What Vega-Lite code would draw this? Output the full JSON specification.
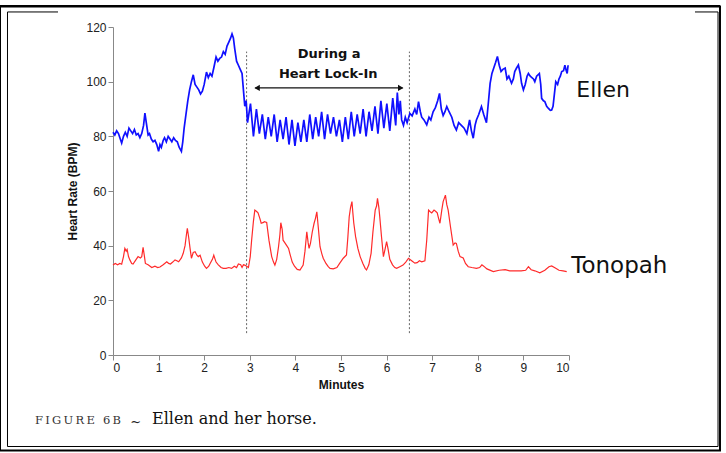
{
  "$schema": "https://vega.github.io/schema/vega-lite/v6.json",
  "width": 456,
  "height": 328,
  "autosize": {"type": "none"},
  "padding": {"left": 113, "top": 27, "right": 157, "bottom": 98},
  "background": "white",
  "config": {"view": {"stroke": null}},
  "datasets": {
    "one": [{"k": 1}],
    "ellen": [
      [0.00,81.5],[0.04,80.5],[0.08,82],[0.12,81],[0.16,79],[0.19,77.5],[0.23,80],[0.27,81.5],[0.31,80],[0.35,83],[0.39,82],[0.43,81],[0.47,82.5],[0.51,80.5],[0.55,81],[0.59,79.5],[0.63,81],[0.67,84],[0.70,88.5],[0.73,85],[0.77,80.5],[0.80,81],[0.84,79],[0.88,78],[0.92,78.5],[0.96,77],[1.00,74.5],[1.03,77],[1.06,76],[1.10,78.5],[1.13,79.5],[1.17,78],[1.21,80],[1.25,79],[1.29,78],[1.33,79.5],[1.37,78.5],[1.41,78],[1.45,76],[1.50,74.5],[1.53,78],[1.56,83],[1.60,88],[1.64,93],[1.68,97],[1.72,100],[1.76,102.5],[1.80,99],[1.84,98],[1.88,97],[1.92,95.5],[1.96,96.5],[2.00,99],[2.05,103.5],[2.09,101.5],[2.13,103],[2.17,102],[2.21,105],[2.26,109],[2.30,107.5],[2.34,108.5],[2.38,109],[2.42,111],[2.46,110],[2.50,113],[2.54,114.5],[2.58,116],[2.61,117.5],[2.64,116],[2.67,112],[2.71,107.5],[2.75,106],[2.79,104.5],[2.83,103],[2.86,97],[2.89,91],[2.92,93],[2.95,85],
      [3.015,92],[3.08,80],[3.145,90],[3.21,81],[3.275,88],[3.34,79],[3.405,87],[3.47,80],[3.535,88],[3.60,78],[3.665,86],[3.73,79],[3.795,87],[3.86,77],[3.925,86],[3.99,76.5],[4.055,85],[4.12,78],[4.185,86],[4.25,78],[4.315,88],[4.38,79],[4.445,87],[4.51,80],[4.575,89],[4.64,79],[4.705,88],[4.77,81],[4.835,87],[4.90,80],[4.965,86],[5.03,78],[5.095,87],[5.16,79],[5.225,89],[5.29,80],[5.355,88],[5.42,81],[5.485,90],[5.55,80],[5.615,89],[5.68,82],[5.745,91],[5.81,81],[5.875,93],[5.94,83],[6.005,92],[6.07,82],[6.135,94],[6.20,84],[6.235,96],[6.27,88],[6.30,93],[6.33,86],[6.37,84],[6.41,87],[6.45,85],
      [6.51,88.4],[6.56,87.5],[6.62,90],[6.66,88],[6.70,92.7],[6.74,89],[6.77,87],[6.82,86],[6.88,84.2],[6.93,87],[6.97,86],[7.02,89],[7.07,90.5],[7.12,93],[7.16,95.7],[7.20,90],[7.24,87.6],[7.28,89],[7.32,90.9],[7.37,89],[7.43,87],[7.48,84],[7.53,82.3],[7.58,85],[7.64,84],[7.70,83],[7.76,81],[7.82,86],[7.86,82],[7.90,79.3],[7.94,84],[7.97,86],[8.02,88],[8.08,90.9],[8.13,88],[8.19,85],[8.23,92],[8.27,99.4],[8.31,103],[8.35,105],[8.39,107],[8.43,109.2],[8.47,106],[8.51,103.7],[8.55,104.5],[8.60,105],[8.64,101],[8.68,102],[8.74,99.4],[8.78,101],[8.81,103.7],[8.85,105],[8.89,106.1],[8.93,103],[8.96,99.4],[9.00,97],[9.04,99],[9.08,102],[9.11,103],[9.15,102],[9.18,101.6],[9.22,101],[9.25,100],[9.29,102],[9.35,103],[9.38,99],[9.40,93.9],[9.44,93],[9.47,92.7],[9.51,91],[9.55,90.2],[9.59,89.5],[9.62,89.6],[9.65,91],[9.67,94],[9.71,100],[9.75,99],[9.78,101],[9.81,102],[9.84,103.7],[9.88,104],[9.91,106],[9.94,104],[9.96,103],[9.98,106]
    ],
    "tonopah": [
      [0.00,32.9],[0.05,33.5],[0.10,33],[0.15,33.5],[0.19,33.2],[0.23,36],[0.26,39],[0.29,38],[0.31,38.6],[0.34,36],[0.37,34.8],[0.41,33.5],[0.44,33.3],[0.49,34.5],[0.55,36],[0.60,35.5],[0.63,36],[0.66,39.4],[0.69,36],[0.71,33.5],[0.77,33],[0.85,32],[0.92,32.5],[0.98,32],[1.03,32.2],[1.10,33],[1.18,34.1],[1.22,33.5],[1.26,33.3],[1.31,34],[1.36,34.8],[1.40,34.5],[1.44,34.1],[1.50,35.5],[1.54,37.2],[1.58,40],[1.61,44],[1.63,46.3],[1.66,43],[1.69,39],[1.72,35.4],[1.76,37.5],[1.80,37.8],[1.84,36.5],[1.87,36],[1.91,36.5],[1.96,34],[2.01,32.5],[2.05,31.7],[2.10,32.5],[2.13,33.5],[2.18,35],[2.21,36.5],[2.24,35],[2.26,34],[2.31,33],[2.37,32],[2.42,31.7],[2.48,31.7],[2.54,32],[2.60,31.7],[2.66,32.5],[2.71,32],[2.75,33.3],[2.80,33],[2.83,32],[2.86,33],[2.89,32.9],[2.93,32.5],[2.97,32],
      [3.01,36],[3.04,42],[3.08,49],[3.11,53],[3.15,52.5],[3.18,52],[3.22,50],[3.25,48.2],[3.30,48.5],[3.32,48.8],[3.37,48.5],[3.42,42],[3.48,36],[3.52,34],[3.55,32.9],[3.59,35],[3.63,39.6],[3.66,44],[3.68,48.4],[3.71,46],[3.73,42],[3.77,41],[3.81,40],[3.85,39],[3.88,37],[3.93,34],[3.98,32.5],[4.04,31.3],[4.10,31.1],[4.17,32.9],[4.21,38],[4.25,45.1],[4.28,41],[4.30,39],[4.33,40.8],[4.37,45],[4.41,48.2],[4.44,50],[4.47,52.4],[4.50,47],[4.54,39.6],[4.58,37],[4.61,35.4],[4.67,33.5],[4.72,32.3],[4.76,31.7],[4.83,31.5],[4.91,32],[4.97,33.5],[5.05,35.4],[5.12,36.6],[5.15,43],[5.18,50.6],[5.21,54],[5.24,56.1],[5.26,52],[5.28,48.3],[5.32,43.3],[5.37,39],[5.42,36],[5.48,33.5],[5.53,31.7],[5.56,31.1],[5.61,33],[5.66,37.2],[5.70,45],[5.75,53],[5.78,54.5],[5.80,57.3],[5.83,54],[5.85,50.6],[5.89,43],[5.93,36],[5.97,39],[6.00,41.5],[6.03,39],[6.07,35],[6.13,33],[6.18,32],[6.22,31.7],[6.29,32.3],[6.36,32.9],[6.42,34],[6.48,35.4],[6.55,34.5],[6.62,33.6],[6.67,33.8],[6.72,34.5],[6.77,34.1],[6.84,34.5],[6.88,42],[6.92,53],[6.95,52.5],[6.99,52],[7.04,53],[7.08,52.5],[7.11,52],[7.14,50],[7.17,48.2],[7.21,53],[7.24,56.1],[7.29,58.5],[7.32,55],[7.35,53],[7.40,47],[7.46,40.2],[7.50,41],[7.53,40.8],[7.57,38],[7.61,36],[7.68,35.5],[7.73,33.5],[7.79,32.3],[7.87,32],[7.97,31.7],[8.04,32],[8.09,33],[8.13,32.5],[8.20,31.5],[8.34,30.5],[8.47,31],[8.60,31.2],[8.70,30.8],[8.78,30.8],[8.95,30.8],[9.05,31],[9.11,32.3],[9.17,31.2],[9.25,30.8],[9.36,30.1],[9.47,31],[9.56,32.3],[9.62,32.6],[9.70,31.8],[9.78,31],[9.87,30.8],[9.95,30.5]
    ]
  },
  "layer": [
    {
      "data": {"name": "one"},
      "mark": {"type": "rect", "filled": false, "stroke": "#000", "strokeWidth": 2},
      "encoding": {
        "x": {"datum": -2.478, "type": "quantitative", "scale": {"domain": [0, 10], "nice": false, "zero": false}, "axis": {"values": [0,1,2,3,4,5,6,7,8,9,10], "grid": false, "tickSize": 5, "domainColor": "#888", "tickColor": "#888", "labelFont": "Liberation Sans", "labelFontSize": 12, "labelColor": "#222", "labelPadding": 2, "title": "Minutes", "titleFont": "Liberation Sans", "titleFontSize": 12, "titleFontWeight": "bold", "titleColor": "#111", "titlePadding": 6}},
        "x2": {"datum": 13.311},
        "y": {"datum": 127.5, "type": "quantitative", "scale": {"domain": [0, 120], "nice": false, "zero": false}, "axis": {"values": [0,5,10,15,20,25,30,35,40,45,50,55,60,65,70,75,80,85,90,95,100,105,110,115,120], "grid": false, "labelOverlap": false, "labelExpr": "datum.value % 20 === 0 ? datum.label : ''", "tickSize": {"condition": {"test": "datum.value % 20 === 0", "value": 5}, "value": 2}, "domainColor": "#888", "tickColor": "#888", "labelFont": "Liberation Sans", "labelFontSize": 12, "labelColor": "#222", "labelPadding": 2, "title": "Heart Rate (BPM)", "titleFont": "Liberation Sans", "titleFontSize": 12, "titleFontWeight": "bold", "titleColor": "#111", "titlePadding": 6}},
        "y2": {"datum": -34.94}
      }
    },
    {
      "data": {"name": "one"},
      "mark": {"type": "rule", "stroke": "#000", "strokeWidth": 1.5},
      "encoding": {"x": {"datum": -2.478, "type": "quantitative"}, "x2": {"datum": 13.311}, "y": {"datum": 127.8, "type": "quantitative"}}
    },
    {
      "data": {"values": [{"a": -2.3136, "b": -2.3136, "c": 125.5, "d": -33.48}, {"a": 13.268, "b": 13.268, "c": 125.5, "d": -33.48}, {"a": -2.3136, "b": 13.268, "c": -33.48, "d": -33.48}, {"a": -2.3136, "b": -1.206, "c": 125.5, "d": 125.5}, {"a": 12.763, "b": 13.268, "c": 125.5, "d": 125.5}]},
      "mark": {"type": "rule", "stroke": "#000", "strokeWidth": 1},
      "encoding": {"x": {"field": "a", "type": "quantitative"}, "x2": {"field": "b"}, "y": {"field": "c", "type": "quantitative"}, "y2": {"field": "d"}}
    },
    {
      "data": {"values": [{"t": 2.93}, {"t": 6.5}]},
      "mark": {"type": "rule", "stroke": "#666", "strokeWidth": 1, "strokeDash": [2, 2]},
      "encoding": {"x": {"field": "t", "type": "quantitative"}, "y": {"datum": 8, "type": "quantitative"}, "y2": {"datum": 111}}
    },
    {
      "data": {"name": "ellen"},
      "transform": [{"calculate": "datum[0]", "as": "t"}, {"calculate": "datum[1]", "as": "v"}],
      "mark": {"type": "line", "stroke": "#1010ff", "strokeWidth": 1.7},
      "encoding": {"x": {"field": "t", "type": "quantitative"}, "y": {"field": "v", "type": "quantitative"}}
    },
    {
      "data": {"name": "tonopah"},
      "transform": [{"calculate": "datum[0]", "as": "t"}, {"calculate": "datum[1]", "as": "v"}],
      "mark": {"type": "line", "stroke": "#ff2a2a", "strokeWidth": 1.2},
      "encoding": {"x": {"field": "t", "type": "quantitative"}, "y": {"field": "v", "type": "quantitative"}}
    },
    {
      "data": {"name": "one"},
      "mark": {"type": "rule", "stroke": "#111", "strokeWidth": 1.3},
      "encoding": {"x": {"datum": 3.12, "type": "quantitative"}, "x2": {"datum": 6.35}, "y": {"datum": 97.7, "type": "quantitative"}}
    },
    {
      "data": {"name": "one"},
      "mark": {"type": "point", "shape": "triangle-left", "filled": true, "color": "#111", "size": 40, "opacity": 1},
      "encoding": {"x": {"datum": 3.16, "type": "quantitative"}, "y": {"datum": 97.7, "type": "quantitative"}}
    },
    {
      "data": {"name": "one"},
      "mark": {"type": "point", "shape": "triangle-right", "filled": true, "color": "#111", "size": 40, "opacity": 1},
      "encoding": {"x": {"datum": 6.31, "type": "quantitative"}, "y": {"datum": 97.7, "type": "quantitative"}}
    },
    {
      "data": {"name": "one"},
      "mark": {"type": "text", "text": "During a", "font": "DejaVu Sans", "fontWeight": "bold", "fontSize": 13, "color": "#111", "align": "center", "baseline": "alphabetic"},
      "encoding": {"x": {"datum": 4.74, "type": "quantitative"}, "y": {"datum": 108.6, "type": "quantitative"}}
    },
    {
      "data": {"name": "one"},
      "mark": {"type": "text", "text": "Heart Lock-In", "font": "DejaVu Sans", "fontWeight": "bold", "fontSize": 13, "color": "#111", "align": "center", "baseline": "alphabetic"},
      "encoding": {"x": {"datum": 4.72, "type": "quantitative"}, "y": {"datum": 101.5, "type": "quantitative"}}
    },
    {
      "data": {"name": "one"},
      "mark": {"type": "text", "text": "Ellen", "font": "DejaVu Sans", "fontSize": 22, "color": "#111", "align": "left", "baseline": "alphabetic"},
      "encoding": {"x": {"datum": 10.16, "type": "quantitative"}, "y": {"datum": 94.5, "type": "quantitative"}}
    },
    {
      "data": {"name": "one"},
      "mark": {"type": "text", "text": "Tonopah", "font": "DejaVu Sans", "fontSize": 23, "color": "#111", "align": "left", "baseline": "alphabetic"},
      "encoding": {"x": {"datum": 10.05, "type": "quantitative"}, "y": {"datum": 29.9, "type": "quantitative"}}
    },
    {
      "data": {"name": "one"},
      "mark": {"type": "text", "text": "F\u2009I\u2009G\u2009U\u2009R\u2009E\u2002\u20096\u2009B", "font": "DejaVu Serif", "fontSize": 11.5, "color": "#333", "align": "left", "baseline": "alphabetic"},
      "encoding": {"x": {"datum": -1.711, "type": "quantitative"}, "y": {"datum": -25.36, "type": "quantitative"}}
    },
    {
      "data": {"name": "one"},
      "mark": {"type": "text", "text": "~", "font": "DejaVu Serif", "fontSize": 13, "color": "#222", "align": "center", "baseline": "alphabetic"},
      "encoding": {"x": {"datum": 0.5, "type": "quantitative"}, "y": {"datum": -25.8, "type": "quantitative"}}
    },
    {
      "data": {"name": "one"},
      "mark": {"type": "text", "text": "Ellen and her horse.", "font": "DejaVu Serif", "fontSize": 16, "color": "#111", "align": "left", "baseline": "alphabetic"},
      "encoding": {"x": {"datum": 0.855, "type": "quantitative"}, "y": {"datum": -25.36, "type": "quantitative"}}
    }
  ]
}
